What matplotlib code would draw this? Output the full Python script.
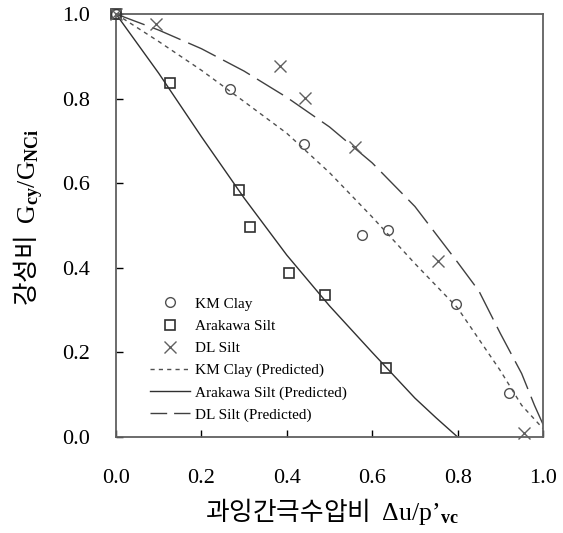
import matplotlib
matplotlib.use("Agg")
import matplotlib.pyplot as plt
from matplotlib.lines import Line2D

plt.rcParams['font.family'] = ['Liberation Serif', 'Noto Sans CJK KR']
plt.rcParams['mathtext.fontset'] = 'custom'
plt.rcParams['mathtext.rm'] = 'Liberation Serif'
plt.rcParams['mathtext.it'] = 'Liberation Serif:italic'
plt.rcParams['mathtext.bf'] = 'Liberation Serif:bold'

# measured points
km_x = [0.0, 0.267, 0.440, 0.575, 0.636, 0.796, 0.921]
km_y = [1.0, 0.823, 0.693, 0.477, 0.489, 0.314, 0.103]
ara_x = [0.0, 0.126, 0.289, 0.313, 0.406, 0.490, 0.632]
ara_y = [1.0, 0.838, 0.585, 0.497, 0.388, 0.335, 0.162]
dl_x = [0.0, 0.093, 0.384, 0.442, 0.560, 0.753, 0.956]
dl_y = [1.0, 0.976, 0.878, 0.801, 0.686, 0.416, 0.010]

# predicted curves
km_pred_x = [0.0, 0.1, 0.2, 0.3, 0.4, 0.5, 0.6, 0.7, 0.8, 0.9, 0.95, 1.0]
km_pred_y = [1.0, 0.935, 0.867, 0.793, 0.718, 0.625, 0.52, 0.41, 0.305, 0.157, 0.075, 0.02]
ara_pred_x = [0.0, 0.1, 0.2, 0.3, 0.4, 0.5, 0.6, 0.7, 0.75, 0.8]
ara_pred_y = [1.0, 0.86, 0.71, 0.565, 0.43, 0.31, 0.20, 0.092, 0.045, 0.0]
dl_pred_x = [0.0, 0.1, 0.2, 0.3, 0.4, 0.5, 0.6, 0.7, 0.8, 0.85, 0.9, 0.95, 0.98, 1.0]
dl_pred_y = [1.0, 0.962, 0.918, 0.865, 0.803, 0.733, 0.648, 0.545, 0.413, 0.345, 0.245, 0.150, 0.075, 0.03]

ticks = [0.0, 0.2, 0.4, 0.6, 0.8, 1.0]
tick_labels = ['0.0', '0.2', '0.4', '0.6', '0.8', '1.0']

fig = plt.figure(figsize=(5.63, 5.33), dpi=100)
ax = fig.add_axes([116 / 563, 96 / 533, 427 / 563, 423 / 533])

h_km, = ax.plot(km_x, km_y, ls='none', marker='o', ms=7, mfc='none',
                mec='#505050', mew=1.0, clip_on=False, zorder=4)
h_ara, = ax.plot(ara_x, ara_y, ls='none', marker='s', ms=7.5, mfc='none',
                 mec='#303030', mew=1.2, clip_on=False, zorder=4)
h_dl, = ax.plot(dl_x, dl_y, ls='none', marker='x', ms=8.5,
                mec='#606060', mew=1.0, clip_on=False, zorder=4)

l_km, = ax.plot(km_pred_x, km_pred_y, color='#505050', lw=1.0, ls=(0, (3, 3)))
l_ara, = ax.plot(ara_pred_x, ara_pred_y, color='#303030', lw=1.0, ls='-')
l_dl, = ax.plot(dl_pred_x, dl_pred_y, color='#404040', lw=1.0, ls=(0, (22, 6)))
# shorter dashes for the legend sample
l_dl_leg = Line2D([], [], color='#404040', lw=1.0, ls=(0, (12, 5)))

ax.set_xlim(0, 1)
ax.set_ylim(0, 1)
ax.set_xticks(ticks)
ax.set_xticklabels(tick_labels)
ax.set_yticks(ticks)
ax.set_yticklabels(tick_labels)
ax.tick_params(direction='in', length=5, width=1, labelsize=16,
               top=False, right=False)
ax.tick_params(axis='x', pad=23)
ax.tick_params(axis='y', pad=19)
for sp in ax.spines.values():
    sp.set_color('#606060')
    sp.set_linewidth(1.3)

ax.text(0.505, -0.175, "과잉간극수압비  $\\mathrm{\\Delta u/p\u2019}_{\\mathbf{vc}}$",
        transform=ax.transAxes, ha='center', va='center', fontsize=18.5,
        family='Noto Sans CJK KR')
ax.text(-0.204, 0.52, "강성비  $\\mathrm{G}_{\\mathbf{cy}}\\mathrm{/G}_{\\mathbf{NCi}}$",
        transform=ax.transAxes, ha='center', va='center', fontsize=18.5,
        rotation=90, family='Noto Sans CJK KR')

ax.legend([h_km, h_ara, h_dl, l_km, l_ara, l_dl_leg],
          ['KM Clay', 'Arakawa Silt', 'DL Silt', 'KM Clay (Predicted)',
           'Arakawa Silt (Predicted)', 'DL Silt (Predicted)'],
          loc='lower left', bbox_to_anchor=(0.08, 0.036), frameon=False,
          fontsize=11, numpoints=1, handlelength=2.6, handletextpad=0.35,
          labelspacing=0.55, borderpad=0, borderaxespad=0)

fig.savefig('out.png', dpi=100)
